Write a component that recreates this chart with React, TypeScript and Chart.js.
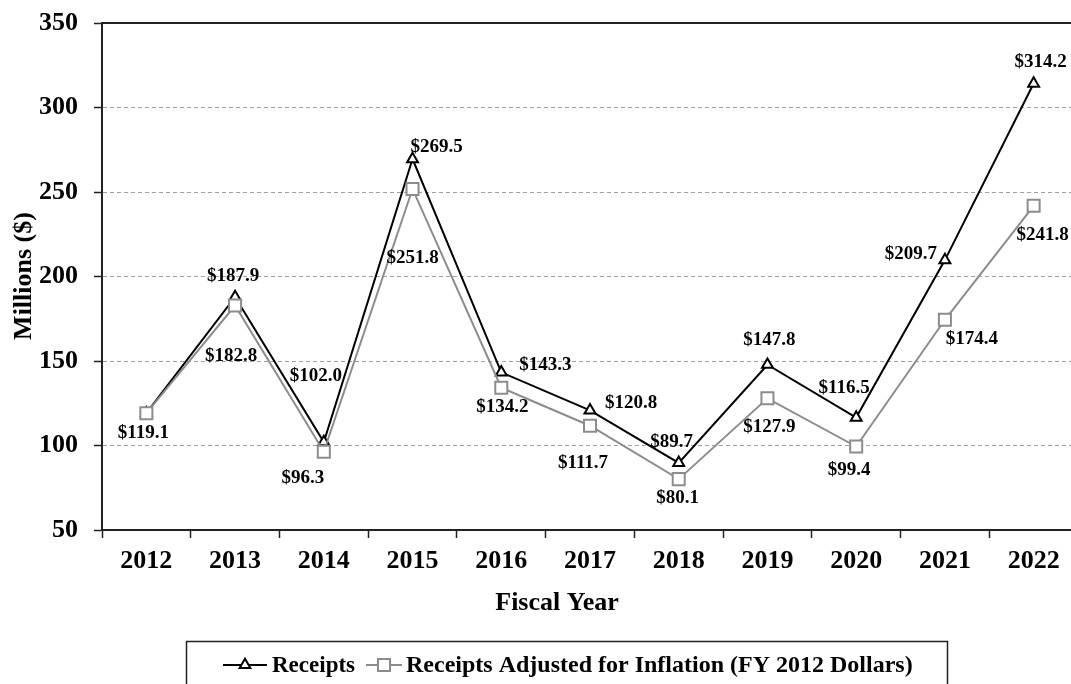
import React, { useEffect, useRef } from 'react';
import { Chart, registerables } from 'chart.js';

Chart.register(...registerables);

// ---------- data ----------
const years = ['2012', '2013', '2014', '2015', '2016', '2017', '2018', '2019', '2020', '2021', '2022'];
const receipts = [119.1, 187.9, 102.0, 269.5, 143.3, 120.8, 89.7, 147.8, 116.5, 209.7, 314.2];
const adjusted = [119.1, 182.8, 96.3, 251.8, 134.2, 111.7, 80.1, 127.9, 99.4, 174.4, 241.8];
const showAdjustedLabel = [false, true, true, true, true, true, true, true, true, true, true];
const yMin = 50;
const yMax = 350;
const yStep = 50;
const seriesNames = ['Receipts', 'Receipts Adjusted for Inflation (FY 2012 Dollars)'];
const xTitle = 'Fiscal Year';
const yTitle = 'Millions ($)';

// label placement offsets (pixels relative to each point)
const receiptsLabelDx = [-3, -2, -8, 24, 44, 41, -7, 2, -12, -34, 7];
const receiptsLabelDy = [20, -21, -66, -12, -7, -7, -21, -25, -30, -6, -21];
const adjustedLabelDx = [0, -4, -21, 0, 1, -7, -1, 2, -7, 27, 9];
const adjustedLabelDy = [0, 51, 26, 69, 19, 37, 19, 29, 24, 19, 29];

const FONT = "'Liberation Serif', 'Times New Roman', serif";
const BLACK = '#000000';
const GRAY = '#8c8c8c';

const fmt = (v: number) => '$' + v.toFixed(1);

const decorPlugin = {
  id: 'decor',
  afterDraw(chart: any) {
    const { ctx, chartArea } = chart;
    ctx.save();
    // top border line
    ctx.strokeStyle = '#222';
    ctx.lineWidth = 2;
    ctx.beginPath();
    ctx.moveTo(chartArea.left, chartArea.top);
    ctx.lineTo(chartArea.right + 2, chartArea.top);
    ctx.stroke();

    // data labels
    ctx.fillStyle = '#000';
    ctx.font = `bold 19px ${FONT}`;
    ctx.textAlign = 'center';
    ctx.textBaseline = 'middle';
    const m0 = chart.getDatasetMeta(0); // receipts
    const m1 = chart.getDatasetMeta(1); // adjusted
    m0.data.forEach((pt: any, i: number) => {
      ctx.fillText(fmt(receipts[i]), pt.x + receiptsLabelDx[i], pt.y + receiptsLabelDy[i]);
    });
    m1.data.forEach((pt: any, i: number) => {
      if (!showAdjustedLabel[i]) return;
      ctx.fillText(fmt(adjusted[i]), pt.x + adjustedLabelDx[i], pt.y + adjustedLabelDy[i]);
    });

    // axis titles
    ctx.font = `bold 26px ${FONT}`;
    ctx.fillText(xTitle, 557, 603);
    ctx.save();
    ctx.translate(24, 276);
    ctx.rotate(-Math.PI / 2);
    ctx.fillText(yTitle, 0, 0);
    ctx.restore();

    // legend
    ctx.strokeStyle = '#222';
    ctx.lineWidth = 1.5;
    ctx.strokeRect(186.5, 641.5, 761, 100);
    const ly = 665;
    // item 1
    ctx.strokeStyle = BLACK;
    ctx.lineWidth = 2;
    ctx.beginPath();
    ctx.moveTo(223, ly);
    ctx.lineTo(267, ly);
    ctx.stroke();
    const r = 6.2;
    ctx.fillStyle = '#fff';
    ctx.beginPath();
    ctx.moveTo(245, ly - r);
    ctx.lineTo(245 + r * 0.866, ly + r * 0.5);
    ctx.lineTo(245 - r * 0.866, ly + r * 0.5);
    ctx.closePath();
    ctx.fill();
    ctx.stroke();
    ctx.fillStyle = '#000';
    ctx.textAlign = 'left';
    ctx.font = `bold 23px ${FONT}`;
    ctx.fillText(seriesNames[0], 272, ly + 1);
    // item 2
    ctx.strokeStyle = GRAY;
    ctx.beginPath();
    ctx.moveTo(366, ly);
    ctx.lineTo(402, ly);
    ctx.stroke();
    ctx.fillStyle = '#fff';
    ctx.fillRect(378, ly - 6, 12, 12);
    ctx.strokeRect(378, ly - 6, 12, 12);
    ctx.fillStyle = '#000';
    ctx.font = `bold 24px ${FONT}`;
    ctx.fillText(seriesNames[1], 406, ly + 1);
    ctx.restore();
  },
};

export default function App() {
  const ref = useRef<HTMLCanvasElement | null>(null);

  useEffect(() => {
    if (!ref.current) return;
    const chart = new Chart(ref.current, {
      type: 'line',
      data: {
        labels: years,
        datasets: [
          {
            label: seriesNames[0],
            data: receipts,
            borderColor: BLACK,
            borderWidth: 2,
            pointStyle: 'triangle',
            pointRadius: 6.3,
            pointBorderWidth: 2,
            pointBackgroundColor: '#fff',
            pointBorderColor: BLACK,
            tension: 0,
            order: 1,
          },
          {
            label: seriesNames[1],
            data: adjusted,
            borderColor: GRAY,
            borderWidth: 2,
            pointStyle: 'rect',
            pointRadius: 8.5,
            pointBorderWidth: 2,
            pointBackgroundColor: '#fff',
            pointBorderColor: GRAY,
            tension: 0,
            order: 0,
          },
        ],
      },
      options: {
        responsive: false,
        animation: false,
        devicePixelRatio: 1,
        layout: { padding: { left: 0, top: 23, right: 12, bottom: 0 } },
        plugins: {
          legend: { display: false },
          tooltip: { enabled: false },
          title: { display: false },
        },
        scales: {
          x: {
            type: 'category',
            offset: true,
            grid: {
              offset: true,
              drawOnChartArea: false,
              drawTicks: true,
              tickLength: 8,
              tickColor: '#222',
              tickWidth: 1.5,
            },
            border: { display: true, color: '#222', width: 2 },
            ticks: {
              color: '#000',
              font: { family: FONT, size: 26, weight: 'bold' },
              padding: 8,
              maxRotation: 0,
              autoSkip: false,
            },
            afterFit: (s: any) => {
              s.height = 170;
              s.paddingLeft = 0;
              s.paddingRight = 0;
            },
          },
          y: {
            min: yMin,
            max: yMax,
            ticks: {
              stepSize: yStep,
              color: '#000',
              font: { family: FONT, size: 26, weight: 'bold' },
              padding: 16,
            },
            grid: {
              color: '#a0a0a0',
              lineWidth: 1,
              drawTicks: true,
              tickLength: 8,
              tickColor: '#222',
              tickWidth: 1.5,
              tickBorderDash: [],
            },
            border: { display: true, color: '#222', width: 2, dash: [4, 3] },
            afterFit: (s: any) => {
              s.width = 102;
              s.paddingTop = 0;
              s.paddingBottom = 0;
            },
          },
        },
      },
      plugins: [decorPlugin],
    });
    return () => chart.destroy();
  }, []);

  return (
    <div
      style={{
        position: 'fixed',
        left: 0,
        top: 0,
        width: 1071,
        height: 684,
        overflow: 'hidden',
        background: '#fff',
      }}
    >
      <canvas ref={ref} width={1090} height={700} style={{ width: 1090, height: 700, display: 'block' }} />
    </div>
  );
}
